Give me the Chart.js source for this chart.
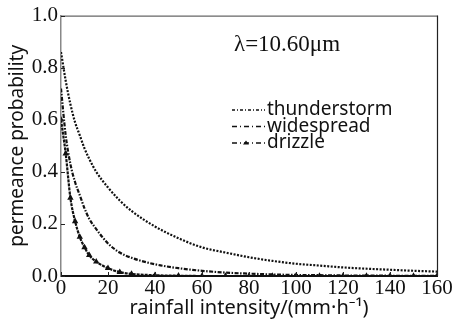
<!DOCTYPE html>
<html>
<head>
<meta charset="utf-8">
<script src="https://cdn.jsdelivr.net/npm/chart.js@4.4.0/dist/chart.umd.min.js"></script>
<style>
    html, body { margin: 0; padding: 0; background: #fff; }
    #wrap { width: 455px; height: 327px; }
</style>
</head>
<body>
<div id="wrap"><canvas id="rainChart" width="455" height="327"></canvas></div>
<script>
// rainfall intensity (mm/h) sample points
const rainfall = [0, 2, 4, 6, 8, 10, 12, 15, 20, 25, 30, 40, 50, 60, 70, 80, 90, 100, 110, 120, 130, 140, 150, 160];
const thunderstorm = [0.86, 0.75, 0.66, 0.59, 0.54, 0.49, 0.45, 0.40, 0.34, 0.29, 0.25, 0.19, 0.145, 0.11, 0.09, 0.072, 0.058, 0.047, 0.04, 0.033, 0.028, 0.024, 0.02, 0.017];
const widespread = [0.72, 0.54, 0.43, 0.36, 0.31, 0.26, 0.22, 0.18, 0.125, 0.09, 0.07, 0.045, 0.03, 0.02, 0.013, 0.009, 0.006, 0.004, 0.003, 0.002, 0.002, 0.001, 0.001, 0.001];
const drizzle = [0.60, 0.47, 0.30, 0.21, 0.15, 0.11, 0.08, 0.055, 0.03, 0.015, 0.008, 0.003, 0.001, 0, 0, 0, 0, 0, 0, 0, 0, 0, 0, 0];
const seriesNames = ['thunderstorm', 'widespread', 'drizzle'];
const xTicks = [0, 20, 40, 60, 80, 100, 120, 140, 160];
const yTicks = [0.0, 0.2, 0.4, 0.6, 0.8, 1.0];

const serif = '"Liberation Serif", "DejaVu Serif", serif';
const sans = '"Noto Sans", "Open Sans", sans-serif';

function toPoints(values) {
    return rainfall.map((x, i) => ({ x: x, y: values[i] }));
}

// frame, inward ticks, annotation and legend
const decorations = {
    id: 'decorations',
    afterDraw(chart) {
        const ctx = chart.ctx;
        const a = chart.chartArea;
        const xs = chart.scales.x;
        const ys = chart.scales.y;
        ctx.save();
        ctx.strokeStyle = '#666';
        ctx.lineWidth = 1.2;
        ctx.beginPath();
        ctx.moveTo(a.left, a.top + 0.5);
        ctx.lineTo(a.right + 0.5, a.top + 0.5);
        ctx.stroke();
        ctx.strokeStyle = '#222';
        ctx.beginPath();
        ctx.moveTo(a.right + 0.5, a.top);
        ctx.lineTo(a.right + 0.5, a.bottom);
        ctx.stroke();

        // small ticks pointing into the plot
        ctx.strokeStyle = '#222';
        ctx.lineWidth = 1;
        ctx.beginPath();
        yTicks.forEach(v => {
            const y = Math.round(ys.getPixelForValue(v)) + 0.5;
            ctx.moveTo(a.left, y);
            ctx.lineTo(a.left + 4, y);
        });
        xTicks.forEach(v => {
            const x = Math.round(xs.getPixelForValue(v)) + 0.5;
            ctx.moveTo(x, a.bottom);
            ctx.lineTo(x, a.bottom - 4);
        });
        ctx.stroke();

        ctx.fillStyle = '#111';
        ctx.font = '23px ' + serif;
        ctx.textBaseline = 'middle';
        ctx.fillText('λ=10.60μm', 234, 45);

        const dashes = [[3, 2, 1, 2], [5, 3, 1, 3], [5, 3, 1, 3]];
        ctx.font = '19px ' + sans;
        seriesNames.forEach((name, i) => {
            const y = 110 + i * 16.5;
            ctx.strokeStyle = '#111';
            ctx.lineWidth = 1.3;
            ctx.setLineDash(dashes[i]);
            ctx.beginPath();
            ctx.moveTo(232, y);
            ctx.lineTo(265, y);
            ctx.stroke();
            ctx.setLineDash([]);
            if (i === 2) {
                ctx.beginPath();
                ctx.moveTo(246, y - 2.5);
                ctx.lineTo(249, y + 1.5);
                ctx.lineTo(243, y + 1.5);
                ctx.closePath();
                ctx.fill();
            }
            ctx.fillText(name, 267, y);
        });
        ctx.restore();
    }
};

const ctx = document.getElementById('rainChart').getContext('2d');
new Chart(ctx, {
    type: 'line',
    data: {
        datasets: [
            {
                label: 'thunderstorm',
                data: toPoints(thunderstorm),
                borderColor: '#111',
                borderWidth: 2.2,
                borderDash: [2, 1.5],
                pointRadius: 0,
                cubicInterpolationMode: 'monotone'
            },
            {
                label: 'widespread',
                data: toPoints(widespread),
                borderColor: '#111',
                borderWidth: 2.2,
                borderDash: [4, 1.5, 1.5, 1.5],
                pointRadius: 0,
                cubicInterpolationMode: 'monotone'
            },
            {
                label: 'drizzle',
                data: toPoints(drizzle),
                borderColor: '#111',
                backgroundColor: '#111',
                borderWidth: 2.2,
                borderDash: [3, 1],
                pointStyle: 'triangle',
                pointRadius: 1.5,
                cubicInterpolationMode: 'monotone'
            }
        ]
    },
    options: {
        responsive: false,
        animation: false,
        layout: { padding: { top: 15, right: 18, left: 0, bottom: 0 } },
        plugins: {
            legend: { display: false },
            tooltip: { enabled: false }
        },
        scales: {
            x: {
                type: 'linear',
                min: 0,
                max: 160,
                afterBuildTicks: axis => { axis.ticks = xTicks.map(v => ({ value: v })); },
                afterFit: axis => { axis.height = 51; },
                grid: { drawOnChartArea: false, drawTicks: false },
                border: { color: '#111', width: 2 },
                ticks: { color: '#111', font: { family: serif, size: 21 }, padding: 0, maxRotation: 0 },
                title: {
                    display: true,
                    text: 'rainfall intensity/(mm·h⁻¹)',
                    color: '#111',
                    font: { family: sans, size: 20 },
                    padding: { top: 0, bottom: 7 }
                }
            },
            y: {
                min: 0,
                max: 1,
                afterBuildTicks: axis => { axis.ticks = yTicks.map(v => ({ value: v })); },
                afterFit: axis => { axis.width = 61; },
                grid: { drawOnChartArea: false, drawTicks: false },
                border: { color: '#888', width: 1.5 },
                ticks: {
                    color: '#111',
                    font: { family: serif, size: 21 },
                    padding: 3,
                    callback: v => v.toFixed(1)
                },
                title: {
                    display: true,
                    text: 'permeance probability',
                    color: '#111',
                    font: { family: sans, size: 19 },
                    padding: { top: 6, bottom: 0 }
                }
            }
        }
    },
    plugins: [decorations]
});
</script>
</body>
</html>
